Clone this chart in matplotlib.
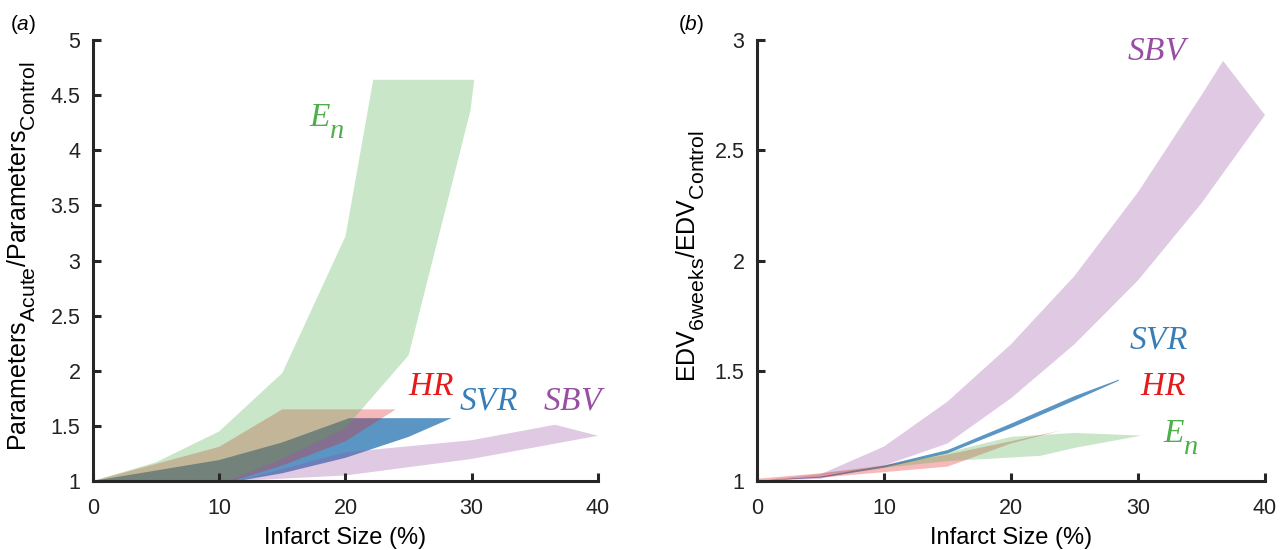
import numpy as np
import matplotlib.pyplot as plt
import matplotlib._mathtext as mathtext

# MATLAB draws subscripts larger and lower than matplotlib's default
mathtext.SHRINK_FACTOR = 0.85
mathtext.FontConstantsBase.sub1 = 0.75

plt.rcParams['font.family'] = ['Liberation Sans', 'DejaVu Sans']
plt.rcParams['mathtext.fontset'] = 'custom'
plt.rcParams['mathtext.rm'] = 'Liberation Sans'
plt.rcParams['mathtext.it'] = 'Liberation Serif:italic'
plt.rcParams['mathtext.sf'] = 'Liberation Sans:italic'

# ---- panel (a): acute parameter change vs infarct size ----
a_En_up_x = [0, 5, 10, 15, 20, 22.2, 30.2]
a_En_up_y = [1, 1.17, 1.45, 1.98, 3.22, 4.64, 4.64]
a_En_lo_x = [29.9, 25, 20, 15, 10, 0]
a_En_lo_y = [4.36, 2.14, 1.48, 1.2, 0.97, 1]

a_HR_up_x = [0, 10, 15, 24]
a_HR_up_y = [1, 1.31, 1.65, 1.65]
a_HR_lo_x = [20, 15, 10, 0]
a_HR_lo_y = [1.36, 1.14, 0.96, 1]

a_SVR_up_x = [0, 10, 15, 20.3, 28.4]
a_SVR_up_y = [1, 1.19, 1.35, 1.57, 1.57]
a_SVR_lo_x = [25, 20, 15, 10, 0]
a_SVR_lo_y = [1.4, 1.21, 1.07, 0.97, 1]

a_SBV_up_x = [11.4, 20, 30, 36.6]
a_SBV_up_y = [1, 1.26, 1.37, 1.51]
a_SBV_lo_x = [40, 30, 20, 11.4]
a_SBV_lo_y = [1.41, 1.2, 1.05, 1]

# ---- panel (b): EDV at 6 weeks vs infarct size ----
b_SBV_up_x = [0, 5, 10, 15, 20, 25, 30, 35, 36.7]
b_SBV_up_y = [1, 1.03, 1.156, 1.36, 1.62, 1.93, 2.31, 2.75, 2.906]
b_SBV_lo_x = [40, 35, 30, 25, 20, 15, 10, 5, 0]
b_SBV_lo_y = [2.66, 2.26, 1.91, 1.62, 1.375, 1.17, 1.07, 1.01, 1.0]

b_SVR_up_x = [0, 5, 10, 15, 20, 25, 28.5]
b_SVR_up_y = [1.0, 1.02, 1.07, 1.14, 1.26, 1.385, 1.46]
b_SVR_lo_x = [28.5, 25, 20, 15, 10, 5, 0]
b_SVR_lo_y = [1.455, 1.365, 1.24, 1.125, 1.06, 1.015, 1.0]

b_HR_up_x = [0, 5, 10, 15, 20, 24]
b_HR_up_y = [1.01, 1.035, 1.07, 1.12, 1.18, 1.23]
b_HR_lo_x = [20, 15, 10, 5, 0]
b_HR_lo_y = [1.17, 1.065, 1.04, 1.015, 1.0]

b_En_up_x = [0, 10, 15, 20, 25, 30.3]
b_En_up_y = [1.0, 1.065, 1.13, 1.2, 1.218, 1.206]
b_En_lo_x = [25, 22.3, 15, 10, 0]
b_En_lo_y = [1.15, 1.114, 1.09, 1.06, 1.0]

red = '#e41a1c'
blue = '#377eb8'
green = '#4daf4a'
purple = '#984ea3'
axcol = '#262626'


def band(ax, ux, uy, lx, ly, color, alpha):
    ax.fill(np.r_[ux, lx], np.r_[uy, ly], color=color, alpha=alpha, lw=0)


def style(ax):
    for s in ['top', 'right']:
        ax.spines[s].set_visible(False)
    for s in ['left', 'bottom']:
        ax.spines[s].set_linewidth(2.2)
        ax.spines[s].set_color(axcol)
    ax.tick_params(direction='in', length=6, width=2.2, color=axcol,
                   labelsize=15.5, labelcolor='#222222')
    ax.tick_params(axis='y', pad=9)
    ax.tick_params(axis='x', pad=12)
    ax.set_xlim(0, 40)
    ax.set_xticks([0, 10, 20, 30, 40])
    ax.set_xlabel('Infarct Size (%)', fontsize=17, labelpad=6)


fig = plt.figure(figsize=(12.84, 5.5), dpi=100)
ax1 = fig.add_axes([0.0724, 0.1255, 0.3933, 0.8015])
ax2 = fig.add_axes([0.5895, 0.1255, 0.3957, 0.8015])

band(ax1, a_SVR_up_x, a_SVR_up_y, a_SVR_lo_x, a_SVR_lo_y, blue, 0.82)
band(ax1, a_SBV_up_x, a_SBV_up_y, a_SBV_lo_x, a_SBV_lo_y, purple, 0.3)
band(ax1, a_HR_up_x, a_HR_up_y, a_HR_lo_x, a_HR_lo_y, red, 0.3)
band(ax1, a_En_up_x, a_En_up_y, a_En_lo_x, a_En_lo_y, green, 0.3)
style(ax1)
ax1.set_ylim(1, 5)
ax1.set_yticks(np.arange(1, 5.01, 0.5))
ax1.set_yticklabels(['1', '1.5', '2', '2.5', '3', '3.5', '4', '4.5', '5'])
ax1.set_ylabel(r'Parameters$_{\mathrm{Acute}}$/Parameters$_{\mathrm{Control}}$',
               fontsize=18)
ax1.yaxis.set_label_coords(-0.11, 0.51)
lab = dict(fontsize=24, ha='center', va='center')
ax1.text(18.5, 4.27, r'$E_n$', color=green, **lab)
ax1.text(26.8, 1.86, r'$HR$', color=red, **lab)
ax1.text(31.3, 1.73, r'$SVR$', color=blue, **lab)
ax1.text(38.1, 1.73, r'$SBV$', color=purple, **lab)

band(ax2, b_SBV_up_x, b_SBV_up_y, b_SBV_lo_x, b_SBV_lo_y, purple, 0.3)
band(ax2, b_SVR_up_x, b_SVR_up_y, b_SVR_lo_x, b_SVR_lo_y, blue, 0.82)
band(ax2, b_HR_up_x, b_HR_up_y, b_HR_lo_x, b_HR_lo_y, red, 0.3)
band(ax2, b_En_up_x, b_En_up_y, b_En_lo_x, b_En_lo_y, green, 0.3)
style(ax2)
ax2.set_ylim(1, 3)
ax2.set_yticks(np.arange(1, 3.01, 0.5))
ax2.set_yticklabels(['1', '1.5', '2', '2.5', '3'])
ax2.set_ylabel(r'EDV$_{\mathrm{6weeks}}$/EDV$_{\mathrm{Control}}$',
               fontsize=18)
ax2.yaxis.set_label_coords(-0.1, 0.51)
ax2.text(31.6, 2.95, r'$SBV$', color=purple, **lab)
ax2.text(31.65, 1.64, r'$SVR$', color=blue, **lab)
ax2.text(32.0, 1.43, r'$HR$', color=red, **lab)
ax2.text(33.4, 1.20, r'$E_n$', color=green, **lab)

fig.text(10 / 1284, 1 - 25 / 550, r'($\mathsf{a}$)', fontsize=15, va='center')
fig.text(678 / 1284, 1 - 25 / 550, r'($\mathsf{b}$)', fontsize=15, va='center')

fig.savefig('out.png', dpi=100)
